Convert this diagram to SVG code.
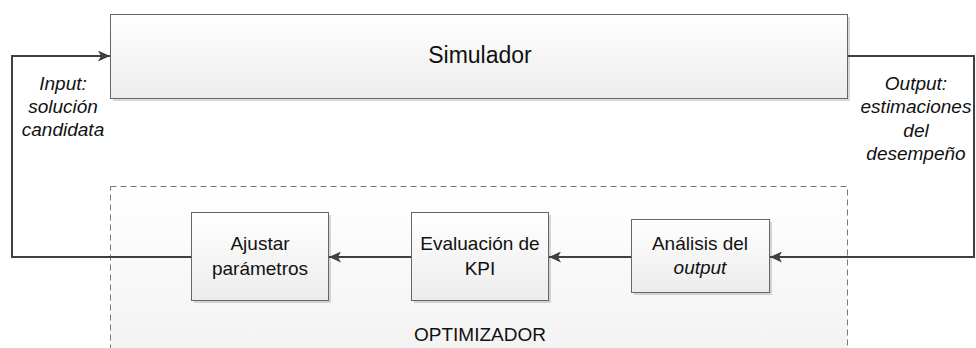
<svg xmlns="http://www.w3.org/2000/svg" width="976" height="348" viewBox="0 0 976 348">
<style>
text{font-family:"Liberation Sans",Arial,sans-serif;fill:#111;text-anchor:middle}
.box{fill:url(#g);stroke:#666;stroke-width:1}
.sh{fill:#000;opacity:0.15}
.lbl{font-size:19px;font-style:italic}
.nt{font-size:19px}
.ln{fill:none;stroke:#404040;stroke-width:2}
</style>
<defs>
<linearGradient id="g" x1="0" y1="0" x2="0" y2="1"><stop offset="0" stop-color="#ffffff"/><stop offset="1" stop-color="#ececec"/></linearGradient>
<linearGradient id="g2" x1="0" y1="0" x2="0" y2="1"><stop offset="0" stop-color="#ffffff"/><stop offset="1" stop-color="#f2f2f2"/></linearGradient>
<marker id="ah" markerWidth="13" markerHeight="11" refX="12" refY="5.5" orient="auto" markerUnits="userSpaceOnUse"><path d="M0,0 L12,5.5 L0,11 L3,5.5 Z" fill="#404040"/></marker>
</defs>
<g id="optimizador">
<rect x="110.5" y="186.5" width="737" height="175" fill="url(#g2)" stroke="#777" stroke-dasharray="6,4"/>
<text x="480" y="341" class="nt">OPTIMIZADOR</text>
</g>
<g id="simulador">
<rect x="113" y="17" width="737" height="84" class="sh"/>
<rect x="110.5" y="14.5" width="737" height="84" class="box"/>
<text x="480" y="63" font-size="23">Simulador</text>
</g>
<g id="ajustar">
<rect x="194" y="215" width="137" height="88" class="sh"/>
<rect x="191.5" y="212.5" width="137" height="88" class="box"/>
<text x="260" y="250" class="nt">Ajustar</text>
<text x="260" y="275" class="nt">parámetros</text>
</g>
<g id="evaluacion">
<rect x="414" y="215" width="137" height="88" class="sh"/>
<rect x="411.5" y="212.5" width="137" height="88" class="box"/>
<text x="480" y="250" class="nt">Evaluación de</text>
<text x="480" y="275" class="nt">KPI</text>
</g>
<g id="analisis">
<rect x="634" y="222" width="138" height="73" class="sh"/>
<rect x="631.5" y="219.5" width="138" height="73" class="box"/>
<text x="700" y="250" class="nt">Análisis del</text>
<text x="700" y="274" class="nt" font-style="italic">output</text>
</g>
<g id="labels">
<text x="63" y="90" class="lbl">Input:</text>
<text x="63" y="113" class="lbl">solución</text>
<text x="63" y="136" class="lbl">candidata</text>
<text x="916" y="90" class="lbl">Output:</text>
<text x="916" y="113" class="lbl">estimaciones</text>
<text x="916" y="137" class="lbl">del</text>
<text x="916" y="160" class="lbl">desempeño</text>
</g>
<g id="connectors">
<path class="ln" d="M848,56 H974 V257 H770" marker-end="url(#ah)"/>
<path class="ln" d="M631,257 H549" marker-end="url(#ah)"/>
<path class="ln" d="M411,257 H329" marker-end="url(#ah)"/>
<path class="ln" d="M191,257 H12 V56 H110" marker-end="url(#ah)"/>
</g>
</svg>
